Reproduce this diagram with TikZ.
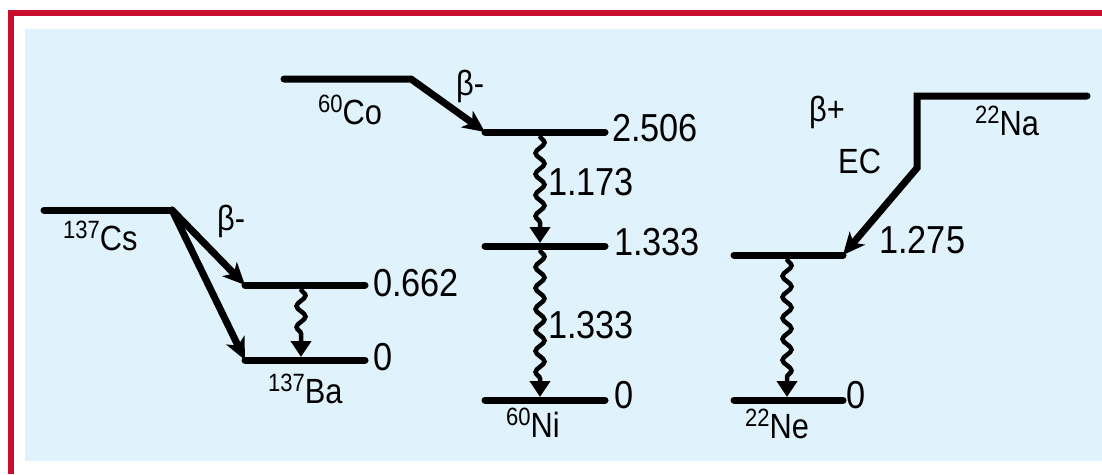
\documentclass[tikz,border=0pt]{standalone}
\usepackage{fontspec}
\setmainfont{Liberation Sans}[FakeStretch=0.88]
\usetikzlibrary{arrows.meta,decorations.pathmorphing}
\definecolor{panelblue}{HTML}{E0F2FC}
\definecolor{framered}{HTML}{C8102E}
\newcommand\myiso[2]{\raisebox{12pt}{\fontsize{25}{28}\selectfont #1}#2}
\begin{document}
\begin{tikzpicture}[x=1pt,y=-1pt,
  levelline/.style={line width=7pt,line cap=round},
  decay/.style={line width=7pt,line cap=round,line join=round,-{Stealth[length=22pt,width=20pt,inset=6pt]}},
  gamma/.style={line width=4.5pt,decorate,decoration={snake,amplitude=4.5pt,segment length=21pt,post length=17pt},-{Triangle[length=16pt,width=20pt]}},
  lab/.style={inner sep=0pt,anchor=base west,font=\fontsize{39}{44}\selectfont},
  iso/.style={inner sep=0pt,anchor=base west,font=\fontsize{35}{40}\selectfont}]
\useasboundingbox (0,0) rectangle (1102,474);
% frame and panel
\fill[white] (0,0) rectangle (1102,474);
\draw[framered,line width=6pt,line join=miter] (11,474) -- (11,13) -- (1102,13);
\fill[panelblue] (25,29) rectangle (1102,461);

% coordinates
\coordinate (csA) at (44,210);
\coordinate (csB) at (172,210);
\coordinate (baHl) at (245,285);
\coordinate (baHr) at (365,285);
\coordinate (baGl) at (245,360);
\coordinate (baGr) at (365,360);
\coordinate (coA) at (284,79);
\coordinate (coB) at (411,79);
\coordinate (niHl) at (485,132);
\coordinate (niHr) at (605,132);
\coordinate (niMl) at (485,246);
\coordinate (niMr) at (605,246);
\coordinate (niGl) at (485,400);
\coordinate (niGr) at (605,400);
\coordinate (naA) at (1087,96);
\coordinate (naB) at (917,96);
\coordinate (naC) at (917,168);
\coordinate (neHl) at (734,255);
\coordinate (neHr) at (843,255);
\coordinate (neGl) at (734,400);
\coordinate (neGr) at (843,400);

% levels
\draw[levelline] (baHl) -- (baHr);
\draw[levelline] (baGl) -- (baGr);
\draw[levelline] (niHl) -- (niHr);
\draw[levelline] (niMl) -- (niMr);
\draw[levelline] (niGl) -- (niGr);
\draw[levelline] (neHl) -- (neHr);
\draw[levelline] (neGl) -- (neGr);

% beta decays
\draw[levelline] (csA) -- (csB);
\draw[decay] (csB) -- (baHl);
\draw[decay] (csB) -- (baGl);
\draw[decay] (coA) -- (coB) -- (niHl);
\draw[decay,line join=miter] (naA) -- (naB) -- (naC) -- (neHr);

% gamma transitions
\coordinate (g1a) at (301,289);
\coordinate (g1b) at (301,357);
\coordinate (g2a) at (540,136);
\coordinate (g2b) at (540,243);
\coordinate (g3a) at (540,250);
\coordinate (g3b) at (540,397);
\coordinate (g4a) at (787,259);
\coordinate (g4b) at (787,397);
\draw[gamma] (g1a) -- (g1b);
\draw[gamma] (g2a) -- (g2b);
\draw[gamma] (g3a) -- (g3b);
\draw[gamma] (g4a) -- (g4b);

% energy labels
\node[lab] (l2506) at (612,141) {2.506};
\node[lab] (l1333) at (614,255) {1.333};
\node[lab] (l0ni) at (614,408) {0};
\node[lab] (l1173) at (548,195) {1.173};
\node[lab] (l1333g) at (548,338) {1.333};
\node[lab] (l0662) at (373,296) {0.662};
\node[lab] (l0ba) at (373,370) {0};
\node[lab] (l1275) at (879,253) {1.275};
\node[lab] (l0ne) at (846,408) {0};

% decay mode labels
\node[iso] (bcs) at (217,230) {β-};
\node[iso] (bco) at (456,95) {β-};
\node[iso] (bna) at (809,121) {β+};
\node[iso] (ec) at (838,173) {EC};

% isotope labels
\node[iso] (ncs) at (63,250) {\myiso{137}{Cs}};
\node[iso] (nco) at (318,124) {\myiso{60}{Co}};
\node[iso] (nba) at (268,403) {\myiso{137}{Ba}};
\node[iso] (nni) at (506,437) {\myiso{60}{Ni}};
\node[iso] (nne) at (745,438) {\myiso{22}{Ne}};
\node[iso] (nna) at (975,135) {\myiso{22}{Na}};
\end{tikzpicture}
\end{document}
